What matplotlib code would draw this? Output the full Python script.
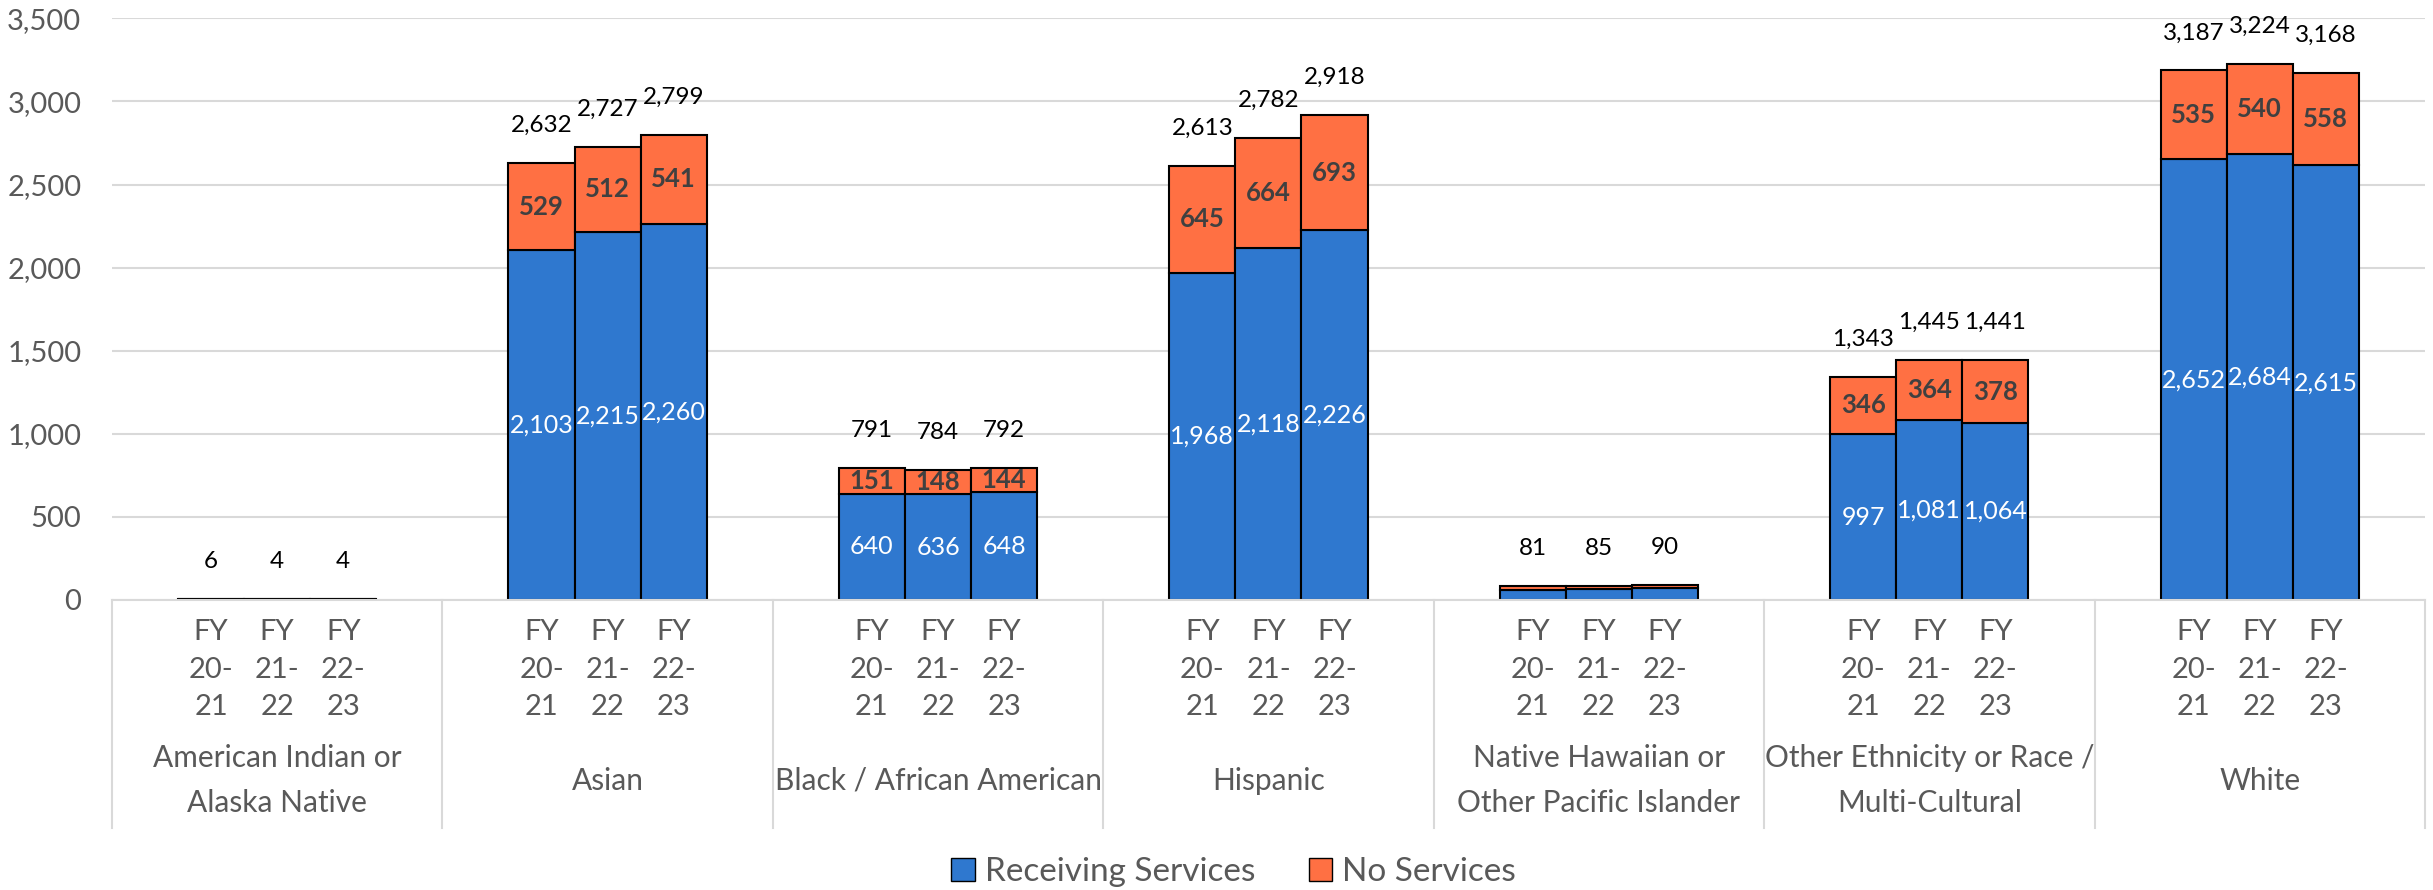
import matplotlib.pyplot as plt
import numpy as np
from matplotlib.ticker import FuncFormatter
from matplotlib.patches import Patch
from matplotlib.transforms import blended_transform_factory

plt.rcParams['font.family'] = ['Lato', 'DejaVu Sans']

groups = ['American Indian or\nAlaska Native', 'Asian', 'Black / African American', 'Hispanic',
          'Native Hawaiian or\nOther Pacific Islander', 'Other Ethnicity or Race /\nMulti-Cultural', 'White']
years = ['FY\n20-\n21', 'FY\n21-\n22', 'FY\n22-\n23']
receiving = [[4, 3, 3], [2103, 2215, 2260], [640, 636, 648], [1968, 2118, 2226],
             [60, 64, 69], [997, 1081, 1064], [2652, 2684, 2615]]
no_services = [[2, 1, 1], [529, 512, 541], [151, 148, 144], [645, 664, 693],
               [21, 21, 21], [346, 364, 378], [535, 540, 558]]
totals = [[6, 4, 4], [2632, 2727, 2799], [791, 784, 792], [2613, 2782, 2918],
          [81, 85, 90], [1343, 1445, 1441], [3187, 3224, 3168]]

blue = '#2F78CF'
orange = '#FF7043'
grid = '#D9D9D9'
txt = '#595959'

fig = plt.figure(figsize=(24.33, 8.90), dpi=100)
ax = fig.add_axes([0.046, 0.326, 0.9507, 0.6533])

w = 0.2
xs, xlabels = [], []
for i in range(len(groups)):
    for j in range(3):
        x = i + (j - 1) * w
        r = receiving[i][j]
        n = no_services[i][j]
        ax.bar(x, r, width=w, color=blue, edgecolor='black', linewidth=1.5, zorder=2)
        ax.bar(x, n, bottom=r, width=w, color=orange, edgecolor='black', linewidth=1.5, zorder=2)
        if r >= 100:
            ax.text(x, r / 2, f'{r:,}', ha='center', va='center', color='white', fontsize=18, zorder=3)
        if n >= 100:
            ax.text(x, r + n / 2, f'{n:,}', ha='center', va='center', color='#404040',
                    fontsize=18.5, fontweight='bold', zorder=3)
        ax.annotate(f'{totals[i][j]:,}', (x, r + n), xytext=(0, 27), textcoords='offset points',
                    ha='center', va='center', fontsize=17.5, color='black')
        xs.append(x)
        xlabels.append(years[j])

ax.set_xlim(-0.5, len(groups) - 0.5)
ax.set_ylim(0, 3500)
ax.set_yticks(np.arange(0, 3501, 500))
ax.yaxis.set_major_formatter(FuncFormatter(lambda v, p: f'{int(v):,}'))
ax.grid(axis='y', color=grid, linewidth=1.5)
ax.set_axisbelow(True)
for s in ['top', 'right', 'left']:
    ax.spines[s].set_visible(False)
ax.spines['bottom'].set_color(grid)
ax.spines['bottom'].set_linewidth(1.5)

ax.set_xticks(xs)
ax.set_xticklabels(xlabels, fontsize=21, color=txt, linespacing=1.55)
ax.tick_params(axis='x', length=0, pad=14)
ax.tick_params(axis='y', length=0, pad=22, labelsize=21, labelcolor=txt)

# group names and separators under the axis
trans = blended_transform_factory(ax.transData, ax.transAxes)
for i, g in enumerate(groups):
    ax.text(i, -0.311, g, transform=trans, ha='center', va='center', fontsize=21.5,
            color=txt, linespacing=1.75)
for b in np.arange(-0.5, len(groups)):
    ax.plot([b, b], [0, -0.392], transform=trans, color=grid, linewidth=1.5, clip_on=False)

handles = [Patch(facecolor=blue, edgecolor='black', label='Receiving Services'),
           Patch(facecolor=orange, edgecolor='black', label='No Services')]
fig.legend(handles=handles, loc='center', bbox_to_anchor=(0.507, 1 - 872 / 890), ncol=2,
           frameon=False, fontsize=24, handlelength=0.7, handleheight=0.7,
           handletextpad=0.3, columnspacing=1.6, labelcolor=txt)

fig.savefig('out.png', dpi=100)
